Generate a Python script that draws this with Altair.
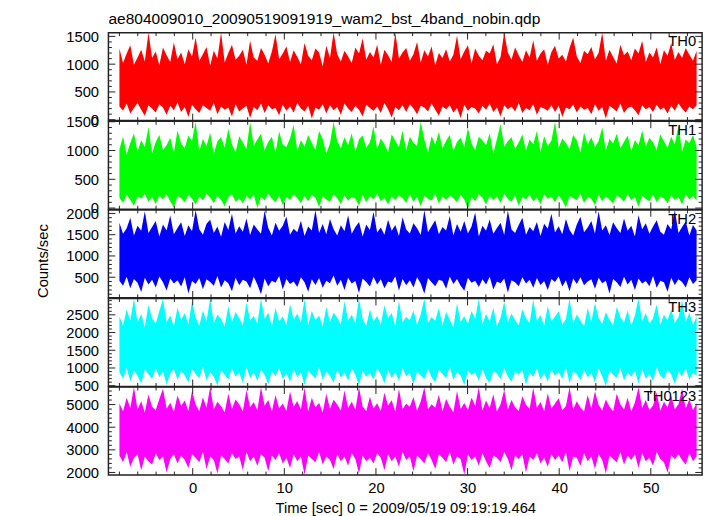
import altair as alt
import pandas as pd
import numpy as np

TITLE = "ae804009010_20090519091919_wam2_bst_4band_nobin.qdp"
XTITLE = "Time [sec] 0 = 2009/05/19 09:19:19.464"
YTITLE = "Counts/sec"
names = ["TH0", "TH1", "TH2", "TH3", "TH0123"]
colors = ["#ff0000", "#00ff00", "#0000ff", "#00ffff", "#ff00ff"]
ydomains = [[-16, 1567], [-20, 1508], [16, 2083], [480, 2960], [1886, 5772]]
ylabels = [[0, 500, 1000, 1500], [0, 500, 1000, 1500], [500, 1000, 1500, 2000],
           [500, 1000, 1500, 2000, 2500], [2000, 3000, 4000, 5000]]
yminor = [100, 100, 100, 100, 200]
xdomain = [-9.2, 55.6]
xlabels = [0, 10, 20, 30, 40, 50]
xminor_step = 2
t_start, t_end = -8.0, 55.0

hi0 = [1280, 1020, 1190, 1340, 990, 1120, 1260, 1050, 1570, 1110,
       1230, 980, 1300, 1160, 1040, 1390, 1090, 1210, 1000, 1270,
       1140, 1480, 1060, 1180, 1310, 970, 1240, 1100, 1570, 1030,
       1200, 1350, 1080, 1150, 1260, 990, 1420, 1120, 1060, 1290,
       1170, 1010, 1230, 1540, 1090, 1190, 1320, 1040, 1250, 1130,
       1000, 1380, 1150, 1070, 1280, 1210, 960, 1330, 1110, 1570,
       1180, 1050, 1240, 1140, 1020, 1300, 1190, 1460, 1080, 1220,
       1120, 1350, 990, 1260, 1160, 1040, 1570, 1100, 1210, 1290,
       1060, 1180, 1400, 1030, 1250, 1140, 1320, 980, 1200, 1110,
       1270, 1050, 1170, 1510, 1090, 1230, 1340, 1010, 1280, 1150,
       1070, 1240, 1190, 1360, 1000, 1130, 1570, 1210, 1080, 1300,
       1160, 1040, 1250, 1120, 1430, 1060, 1190, 1270, 990, 1220,
       1330, 1100, 1170, 1050, 1290, 1480, 1140, 1020, 1240, 1180,
       1310, 1090, 1200, 1570, 1060, 1260, 1130, 1010, 1350, 1160,
       1230, 1070, 1280, 1190, 1420, 1040, 1210, 1120, 1300, 1000,
       1250, 1150, 1380, 1080, 1220, 1110, 1290, 1170, 1060, 1240]
lo0 = [240, 160, 290, 110, 210, 300, 180, 70, 260, 200,
       130, 280, 220, 90, 250, 170, 310, 140, 230, 50,
       270, 190, 120, 260, 210, 160, 300, 100, 240, 180,
       220, 60, 280, 150, 200, 250, 30, 230, 170, 290,
       120, 260, 190, 210, 80, 270, 160, 240, 130, 300,
       200, 150, 250, 20, 220, 180, 280, 110, 260, 170,
       230, 90, 290, 200, 140, 250, 180, 60, 270, 210,
       160, 240, 120, 300, 190, 40, 230, 170, 260, 140,
       280, 200, 100, 250, 220, 150, 290, 180, 70, 240,
       190, 260, 130, 210, 30, 270, 160, 230, 200, 110,
       250, 180, 290, 140, 220, 60, 260, 190, 240, 150,
       300, 120, 210, 170, 280, 90, 230, 200, 160, 260,
       140, 250, 50, 220, 190, 270, 130, 240, 180, 210,
       100, 280, 160, 230, 20, 250, 200, 150, 290, 120,
       210, 240, 170, 80, 260, 190, 230, 140, 270, 180,
       220, 110, 250, 160, 290, 200, 130, 240, 190, 260]

hi1 = [1020, 1240, 930, 1130, 1300, 980, 1180, 1060, 1410, 950,
       1150, 1270, 1010, 1090, 1220, 960, 1350, 1120, 1040, 1260,
       1170, 1500, 990, 1200, 1080, 1310, 940, 1160, 1230, 1050,
       1380, 1110, 970, 1250, 1140, 1020, 1500, 1080, 1190, 1290,
       1000, 1150, 1240, 960, 1330, 1100, 1060, 1210, 1450, 990,
       1180, 1070, 1270, 1130, 1010, 1340, 1200, 950, 1120, 1500,
       1160, 1040, 1230, 1090, 1300, 980, 1190, 1260, 1050, 1140,
       1420, 1020, 1210, 1110, 970, 1280, 1170, 1060, 1350, 1000,
       1240, 1130, 1080, 1500, 1190, 960, 1250, 1100, 1320, 1040,
       1170, 1270, 990, 1150, 1220, 1060, 1390, 1120, 1010, 1240,
       1180, 1090, 1300, 950, 1200, 1460, 1070, 1160, 1230, 1030,
       1140, 1280, 1000, 1190, 1110, 1340, 980, 1250, 1080, 1170,
       1500, 1050, 1210, 1130, 1020, 1270, 1180, 960, 1310, 1100,
       1230, 1060, 1160, 1400, 1000, 1200, 1120, 1290, 1040, 1150,
       1260, 990, 1180, 1090, 1350, 1070, 1220, 1140, 1010, 1280,
       1160, 1050, 1240, 1110, 1430, 980, 1190, 1130, 1270, 1060]
lo1 = [180, 90, 230, 140, 40, 200, 160, 250, 110, 190,
       70, 220, 150, 240, 120, 10, 210, 170, 100, 230,
       160, 60, 200, 130, 250, 180, 90, 220, 140, 30,
       190, 240, 110, 170, 80, 210, 150, 230, 0, 200,
       130, 250, 160, 100, 220, 50, 190, 140, 240, 170,
       90, 210, 120, 230, 180, 20, 200, 150, 110, 240,
       170, 70, 220, 130, 190, 160, 40, 230, 100, 210,
       150, 250, 120, 180, 60, 200, 140, 220, 170, 90,
       240, 110, 190, 30, 210, 160, 130, 250, 80, 200,
       140, 220, 170, 100, 230, 150, -10, 190, 120, 240,
       180, 60, 210, 140, 200, 90, 250, 160, 110, 220,
       40, 190, 150, 230, 120, 180, 70, 240, 160, 200,
       100, 220, 130, 10, 210, 170, 140, 250, 90, 190,
       160, 50, 230, 120, 200, 150, 80, 220, 180, 110,
       240, 140, 190, 20, 210, 160, 120, 230, 100, 200,
       170, 80, 220, 140, 190, 60, 240, 150, 210, 130]

hi2 = [1780, 1520, 1650, 1900, 1480, 1710, 1590, 2050, 1540, 1680,
       1820, 1460, 1740, 1600, 1950, 1510, 1660, 1790, 1470, 1720,
       1580, 2080, 1630, 1500, 1760, 1850, 1540, 1690, 1450, 1800,
       1610, 1990, 1530, 1700, 1570, 1880, 1490, 1740, 1620, 1520,
       2060, 1660, 1480, 1780, 1590, 1710, 1930, 1500, 1640, 1560,
       1830, 1470, 1690, 1600, 2080, 1540, 1750, 1510, 1870, 1630,
       1480, 1720, 1580, 1960, 1520, 1680, 1800, 1460, 1740, 1610,
       2040, 1550, 1670, 1500, 1850, 1590, 1730, 1470, 1910, 1620,
       1530, 1770, 1650, 1490, 2080, 1560, 1700, 1840, 1510, 1680,
       1600, 1940, 1480, 1750, 1570, 1820, 1530, 1690, 2020, 1460,
       1710, 1590, 1860, 1520, 1660, 1780, 1490, 2070, 1620, 1540,
       1730, 1900, 1500, 1680, 1580, 1800, 1470, 1760, 1640, 1990,
       1550, 1700, 1510, 1870, 1610, 1480, 1740, 1920, 1560, 1670,
       1820, 1530, 2050, 1600, 1720, 1490, 1790, 1650, 1540, 1880,
       1590, 1710, 1460, 1960, 1630, 1770, 1520, 1690, 1840, 1570,
       1500, 1750, 1620, 2080, 1540, 1680, 1810, 1480, 1730, 1600]
lo2 = [420, 300, 510, 240, 460, 370, 150, 490, 330, 440,
       260, 520, 380, 190, 470, 350, 430, 280, 500, 120,
       410, 340, 480, 220, 450, 390, 300, 530, 260, 430,
       360, 170, 490, 310, 440, 400, 240, 510, 330, 100,
       470, 290, 420, 370, 530, 210, 460, 340, 400, 270,
       500, 380, 160, 450, 320, 480, 250, 420, 360, 540,
       300, 440, 200, 490, 350, 410, 130, 470, 390, 280,
       510, 330, 450, 240, 400, 370, 520, 190, 460, 310,
       430, 260, 500, 350, 110, 480, 380, 290, 440, 410,
       230, 520, 340, 460, 300, 180, 490, 370, 420, 270,
       450, 330, 510, 210, 400, 360, 470, 140, 430, 380,
       290, 500, 350, 440, 250, 480, 320, 410, 200, 460,
       390, 520, 280, 430, 170, 470, 340, 500, 310, 400,
       450, 230, 490, 360, 420, 120, 460, 380, 270, 510,
       330, 440, 200, 470, 350, 410, 290, 530, 250, 420,
       380, 160, 490, 320, 450, 390, 260, 500, 340, 430]

hi3 = [2450, 2200, 2650, 2330, 2960, 2280, 2520, 2150, 2780, 2400,
       2250, 2600, 2950, 2300, 2480, 2180, 2700, 2360, 2550, 2230,
       2880, 2420, 2190, 2620, 2310, 2960, 2270, 2500, 2380, 2160,
       2740, 2290, 2580, 2410, 2200, 2850, 2340, 2470, 2250, 2960,
       2390, 2560, 2180, 2690, 2320, 2450, 2210, 2800, 2370, 2530,
       2280, 2940, 2200, 2610, 2350, 2480, 2170, 2720, 2300, 2560,
       2420, 2230, 2880, 2330, 2500, 2260, 2960, 2380, 2190, 2640,
       2310, 2470, 2220, 2770, 2400, 2550, 2180, 2900, 2290, 2440,
       2350, 2620, 2210, 2510, 2960, 2270, 2430, 2330, 2690, 2200,
       2580, 2360, 2150, 2820, 2300, 2460, 2250, 2600, 2390, 2960,
       2240, 2520, 2310, 2700, 2180, 2420, 2870, 2280, 2540, 2350,
       2200, 2660, 2400, 2270, 2930, 2330, 2490, 2190, 2750, 2310,
       2450, 2600, 2220, 2380, 2960, 2260, 2510, 2340, 2180, 2690,
       2300, 2830, 2410, 2240, 2570, 2360, 2200, 2720, 2430, 2280,
       2620, 2190, 2480, 2960, 2320, 2550, 2250, 2400, 2790, 2210,
       2500, 2340, 2660, 2270, 2430, 2910, 2300, 2560, 2220, 2450]
lo3 = [880, 700, 1010, 620, 930, 780, 560, 960, 820, 690,
       1000, 740, 900, 530, 850, 970, 670, 920, 790, 600,
       980, 830, 710, 1040, 650, 890, 760, 500, 940, 810,
       680, 990, 760, 870, 580, 1020, 720, 880, 640, 950,
       800, 540, 910, 770, 1000, 690, 850, 610, 970, 740,
       880, 520, 930, 810, 700, 1030, 660, 900, 780, 590,
       960, 730, 870, 640, 1010, 800, 510, 920, 750, 850,
       680, 990, 820, 570, 940, 720, 880, 630, 1000, 770,
       860, 550, 910, 790, 690, 980, 740, 600, 950, 830,
       710, 1040, 660, 890, 780, 520, 930, 800, 870, 640,
       970, 720, 580, 920, 840, 690, 1010, 760, 610, 900,
       810, 940, 530, 870, 750, 990, 680, 850, 620, 960,
       780, 890, 700, 1030, 570, 910, 820, 660, 950, 740,
       860, 600, 990, 770, 500, 930, 810, 720, 1000, 650,
       880, 750, 920, 560, 970, 700, 840, 630, 1020, 790,
       690, 950, 820, 540, 900, 760, 1000, 670, 870, 780]

hi4 = [5050, 4700, 5300, 4850, 5770, 4780, 5150, 4650, 5450, 4900,
       4750, 5250, 5700, 4820, 5080, 4680, 5400, 4950, 5180, 4720,
       5600, 5000, 4700, 5320, 4860, 5770, 4790, 5120, 4930, 4660,
       5480, 4800, 5220, 5010, 4700, 5650, 4880, 5100, 4760, 5770,
       4950, 5200, 4690, 5420, 4840, 5050, 4720, 5580, 4900, 5160,
       4780, 5740, 4700, 5300, 4870, 5080, 4650, 5480, 4820, 5210,
       5000, 4740, 5620, 4850, 5130, 4770, 5770, 4920, 4700, 5350,
       4830, 5060, 4720, 5520, 4960, 5190, 4680, 5690, 4800, 5040,
       4900, 5330, 4730, 5140, 5770, 4790, 5020, 4860, 5430, 4710,
       5250, 4920, 4660, 5600, 4810, 5070, 4760, 5300, 4950, 5770,
       4740, 5180, 4850, 5460, 4690, 5020, 5640, 4780, 5200, 4880,
       4720, 5370, 4990, 4800, 5740, 4860, 5110, 4700, 5500, 4830,
       5050, 5280, 4750, 4940, 5770, 4790, 5150, 4870, 4690, 5420,
       4820, 5590, 4980, 4740, 5230, 4900, 4710, 5480, 5010, 4780,
       5300, 4690, 5090, 5770, 4850, 5200, 4760, 4960, 5550, 4730,
       5120, 4880, 5380, 4790, 5020, 5700, 4830, 5240, 4750, 5060]
lo4 = [2750, 2450, 2900, 2250, 2650, 2800, 2100, 2700, 2500, 2350,
       2850, 2550, 2700, 2000, 2600, 2800, 2400, 2750, 2550, 2200,
       2800, 2650, 2450, 2900, 2150, 2700, 2550, 1950, 2750, 2600,
       2400, 2850, 2600, 2700, 2100, 2900, 2500, 2700, 2300, 2800,
       2650, 2050, 2750, 2550, 2850, 2400, 2650, 2200, 2800, 2500,
       2700, 1900, 2750, 2600, 2450, 2900, 2350, 2700, 2550, 2150,
       2800, 2500, 2700, 2300, 2850, 2600, 1950, 2750, 2500, 2650,
       2400, 2850, 2650, 2100, 2800, 2500, 2700, 2250, 2900, 2550,
       2700, 2050, 2750, 2600, 2400, 2850, 2550, 2150, 2800, 2650,
       2450, 2900, 2350, 2700, 2600, 1900, 2800, 2550, 2700, 2300,
       2850, 2500, 2200, 2750, 2650, 2450, 2900, 2600, 2100, 2750,
       2600, 2800, 2000, 2700, 2550, 2850, 2400, 2650, 2250, 2800,
       2550, 2750, 2450, 2900, 2050, 2700, 2650, 2300, 2850, 2500,
       2700, 2150, 2800, 2550, 1950, 2750, 2600, 2450, 2900, 2350,
       2750, 2550, 2800, 2200, 2850, 2500, 2650, 2300, 2900, 2600,
       2450, 2000, 2750, 2600, 2800, 2550, 2350, 2850, 2500, 2700]

his = [hi0, hi1, hi2, hi3, hi4]
los = [lo0, lo1, lo2, lo3, lo4]

W = 603
H = 89.3
FONT = "Liberation Sans"
FS = 15
MAJ = 7
MIN = 3.5
INK = "#222222"

xmaj = xlabels
xmin = [v for v in np.arange(-8, 56, xminor_step).tolist() if v not in xlabels]
xscale = alt.Scale(domain=xdomain, nice=False, zero=False)


def panel(i):
    ysc = alt.Scale(domain=ydomains[i], nice=False, zero=False)
    last = i == len(names) - 1
    if last:
        xax = alt.Axis(values=xlabels, ticks=False, domain=False, grid=False,
                       labelFlush=False, labelPadding=6, labelOverlap=False,
                       format="d", title=XTITLE, titlePadding=5)
    else:
        xax = None
    yax = alt.Axis(values=ylabels[i], ticks=False, domain=False, grid=False,
                   labelPadding=10, labelFlush=False, labelOverlap=False,
                   format="d", title=None)
    m = min(len(his[i]), len(los[i]))
    tt = [t_start + k * (t_end - t_start) / (m - 1) for k in range(m)]
    df = pd.DataFrame({"t": tt, "hi": his[i][:m], "lo": los[i][:m]})
    area = alt.Chart(df).mark_area(color=colors[i], clip=True,
                                   interpolate="linear").encode(
        x=alt.X("t:Q", scale=xscale, axis=xax),
        y=alt.Y("hi:Q", scale=ysc, axis=yax),
        y2="lo:Q",
    )
    lo_d, hi_d = ydomains[i]
    ymaj_v = list(ylabels[i])
    ymin_v = [v for v in np.arange(0, 6000, yminor[i]).tolist()
              if lo_d <= v <= hi_d and v not in ymaj_v]
    layers = [area]
    for vals, ln in ((xmaj, MAJ), (xmin, MIN)):
        d = pd.DataFrame({"v": vals})
        layers.append(alt.Chart(d).mark_rule(color=INK, strokeWidth=1).encode(
            x=alt.X("v:Q", scale=xscale, axis=xax), y=alt.value(H), y2=alt.value(H - ln)))
        layers.append(alt.Chart(d).mark_rule(color=INK, strokeWidth=1).encode(
            x=alt.X("v:Q", scale=xscale, axis=xax), y=alt.value(0), y2=alt.value(ln)))
    for vals, ln in ((ymaj_v, MAJ), (ymin_v, MIN)):
        d = pd.DataFrame({"v": vals})
        layers.append(alt.Chart(d).mark_rule(color=INK, strokeWidth=1).encode(
            y=alt.Y("v:Q", scale=ysc, axis=yax), x=alt.value(0), x2=alt.value(ln)))
        layers.append(alt.Chart(d).mark_rule(color=INK, strokeWidth=1).encode(
            y=alt.Y("v:Q", scale=ysc, axis=yax), x=alt.value(W), x2=alt.value(W - ln)))
    lab = alt.Chart(pd.DataFrame({"s": [names[i]]})).mark_text(
        align="right", baseline="top", font=FONT, fontSize=FS, color="black").encode(
        x=alt.value(W - 6), y=alt.value(2), text="s:N")
    layers.append(lab)
    if i == 0:
        ttl = alt.Chart(pd.DataFrame({"s": [TITLE]})).mark_text(
            align="left", baseline="alphabetic", font=FONT, fontSize=15.75,
            color="black").encode(x=alt.value(0), y=alt.value(-9), text="s:N")
        layers.append(ttl)
    if i == 2:
        yt = alt.Chart(pd.DataFrame({"s": [YTITLE]})).mark_text(
            align="center", baseline="middle", font=FONT, fontSize=FS, angle=270,
            color="black").encode(x=alt.value(-66), y=alt.value(52), text="s:N")
        layers.append(yt)
    return alt.layer(*layers).properties(width=W, height=H)


chart = alt.vconcat(*[panel(i) for i in range(len(names))], spacing=0,
                    bounds="flush").properties(
    padding={"left": 28, "top": -2, "right": 5, "bottom": 5}
).configure_view(stroke=INK, strokeWidth=1.5).configure_axis(
    labelFont=FONT, labelFontSize=FS, labelColor="black",
    titleFont=FONT, titleFontSize=FS, titleFontWeight="normal", titleColor="black"
)

chart.save("out.html", embed_options={"renderer": "svg", "actions": False})
